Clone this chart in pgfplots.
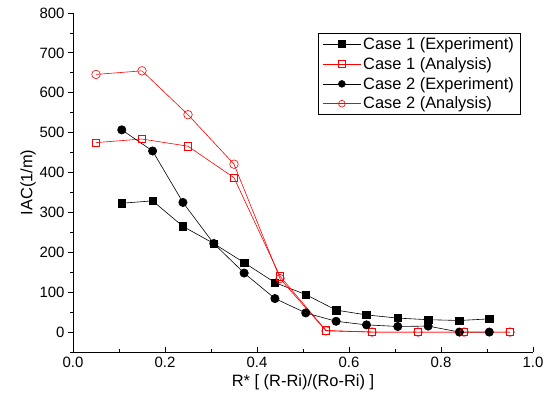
\documentclass[border=0pt]{standalone}
\usepackage{pgfplots}
\pgfplotsset{compat=1.18}
\usepackage{fontspec}
\setmainfont{Liberation Sans}

\begin{document}
\begin{tikzpicture}
\useasboundingbox (-73bp,-56bp) rectangle (476bp,352bp);
\begin{axis}[
  scale only axis, width=460bp, height=339bp,
  at={(0,0)}, anchor=south west,
  xmin=0, xmax=1.0, ymin=-50, ymax=800,
  axis x line*=bottom, axis y line*=left,
  axis line style={line width=0.9pt, -},
  xtick={0,0.2,...,1.0}, minor xtick={0.1,0.3,...,0.9},
  ytick={0,100,...,800}, minor ytick={-50,50,...,750},
  xticklabel style={yshift=-2bp, /pgf/number format/.cd, fixed, fixed zerofill, precision=1},
  x tick style={line width=0.8pt, black}, y tick style={line width=0.8pt, black},
  xtick align=inside, ytick align=outside,
  major tick length=5bp, minor tick length=3bp,
  /pgf/number format/assume math mode=true,
  tick label style={font=\fontsize{15}{17}\selectfont},
  label style={font=\fontsize{16.5}{19}\selectfont},
  xlabel={R* [ (R-Ri)/(Ro-Ri) ]},
  ylabel={IAC(1/m)},
  ylabel style={yshift=-3bp},
  legend style={at={(0.533,0.941)}, anchor=north west, draw=black, line width=0.8pt,
    font=\fontsize{16.5}{19}\selectfont, inner xsep=4bp, inner ysep=2bp, row sep=2.5bp,
    /tikz/every even column/.append style={column sep=1bp}},
  legend image code/.code={%
    \draw[mark repeat=2,mark phase=2, mark size=3.4pt] plot coordinates {(0bp,0bp) (19bp,0bp) (38bp,0bp)};},
  legend cell align=left,
  every axis plot/.append style={line width=0.6pt},
]
\addplot[black, mark=square*, mark size=3.7pt, mark options={solid}] coordinates {
  (0.106,323) (0.173,329) (0.239,265) (0.306,222) (0.372,174) (0.439,124)
  (0.506,94) (0.572,55) (0.638,43) (0.706,35) (0.772,31) (0.840,29) (0.905,33)
};
\addlegendentry{Case 1 (Experiment)}
\addplot[red, mark=square, mark size=3.7pt, mark options={solid, fill=white}] coordinates {
  (0.05,475) (0.15,484) (0.25,466) (0.35,387) (0.45,140) (0.55,4)
  (0.65,0) (0.75,0) (0.85,0) (0.95,0)
};
\addlegendentry{Case 1 (Analysis)}
\addplot[black, mark=*, mark size=4.2pt] coordinates {
  (0.106,507) (0.173,454) (0.239,325) (0.306,222) (0.372,148) (0.439,84)
  (0.506,48) (0.572,27) (0.638,18) (0.706,14) (0.772,15) (0.840,0) (0.905,0)
};
\addlegendentry{Case 2 (Experiment)}
\addplot[red, mark=o, mark size=4.3pt, mark options={fill=white}] coordinates {
  (0.05,646) (0.15,655) (0.25,545) (0.35,421) (0.45,134) (0.55,3)
  (0.65,0) (0.75,0) (0.85,0) (0.95,0)
};
\addlegendentry{Case 2 (Analysis)}
\end{axis}
\end{tikzpicture}
\end{document}
